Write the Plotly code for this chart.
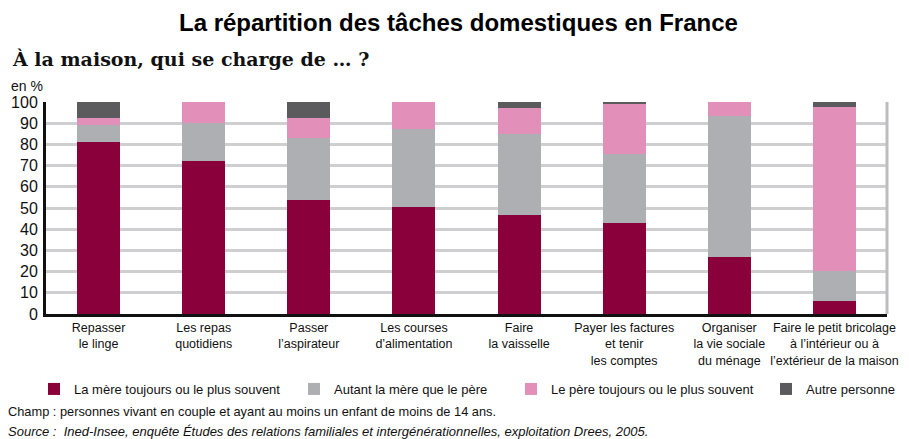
import plotly.graph_objects as go

categories = [
    "Repasser<br>le linge",
    "Les repas<br>quotidiens",
    "Passer<br>l’aspirateur",
    "Les courses<br>d’alimentation",
    "Faire<br>la vaisselle",
    "Payer les factures<br>et tenir<br>les comptes",
    "Organiser<br>la vie sociale<br>du ménage",
    "Faire le petit bricolage<br>à l’intérieur ou à<br>l’extérieur de la maison",
]
mere = [81, 72, 54, 50.5, 46.5, 43, 27, 6]
autant = [8, 18, 29, 37, 38.5, 32.5, 66.5, 14.5]
pere = [3.5, 10, 9.5, 12.5, 12, 24, 6.5, 77]
autre = [7.5, 0, 7.5, 0, 3, 0.5, 0, 2.5]
series_names = [
    "La mère toujours ou le plus souvent",
    "Autant la mère que le père",
    "Le père toujours ou le plus souvent",
    "Autre personne",
]
y_ticks = [0, 10, 20, 30, 40, 50, 60, 70, 80, 90, 100]

colors = ["#8A003A", "#AEAFB3", "#E290BA", "#5B5B5D"]
SANS = "Liberation Sans, Arial, sans-serif"

# page body has an 8px margin; the figure is placed at (8, 8) in the window
OFF = 8
W, H = 909 - OFF, 439 - OFF
# plot area in window pixels: left 46, right 887, top 102, bottom 314
L = 46 - OFF
R = W - (887 - OFF)
T = 102 - OFF
B = H - (314 - OFF)
pw = W - L - R
ph = H - T - B


def px(x):
    return (x - OFF - L) / pw


def py(y):
    return (H - B - (y - OFF)) / ph


legend_ids = ["legend", "legend2", "legend3", "legend4"]
# left edges of each legend box, in figure pixels
legend_left = [26, 286, 503, 758]

fig = go.Figure()
x_idx = list(range(len(categories)))
for name, vals, col, lid in zip(series_names, [mere, autant, pere, autre], colors, legend_ids):
    fig.add_trace(go.Bar(
        x=x_idx, y=vals, name=name, legend=lid,
        marker=dict(color=col, line=dict(width=0)),
    ))

legend_layout = {}
for lid, lx in zip(legend_ids, legend_left):
    legend_layout[lid] = dict(
        orientation="h",
        xref="container",
        x=lx / W, xanchor="left",
        y=py(389), yanchor="middle",
        font=dict(family=SANS, size=13, color="#111111"),
        bgcolor="rgba(0,0,0,0)",
    )

fig.update_layout(
    width=W, height=H,
    barmode="stack",
    bargap=0.59,
    margin=dict(l=L, r=R, t=T, b=B, autoexpand=False),
    plot_bgcolor="white",
    paper_bgcolor="white",
    font=dict(family=SANS, size=13, color="#111111"),
    showlegend=True,
    **legend_layout,
    xaxis=dict(
        tickmode="array",
        tickvals=x_idx,
        ticktext=categories,
        tickangle=0,
        range=[-0.5, len(categories) - 0.5],
        showline=True, linecolor="#111111", linewidth=3,
        ticks="", showgrid=False,
        ticklabeloverflow="allow",
        tickfont=dict(family=SANS, size=12.5, color="#111111"),
    ),
    yaxis=dict(
        range=[0, 100],
        tickmode="array",
        tickvals=y_ticks,
        showline=True, linecolor="#111111", linewidth=3,
        showgrid=True, gridcolor="#CFCFD1", gridwidth=3,
        ticks="", zeroline=False,
        ticklabelstandoff=2,
        tickfont=dict(family=SANS, size=16, color="#111111"),
    ),
    shapes=[
        dict(type="line", xref="paper", yref="paper", x0=1, x1=1, y0=0, y1=1,
             line=dict(color="#BDBDBF", width=3)),
    ],
    annotations=[
        dict(text="<b>La répartition des tâches domestiques en France</b>",
             xref="paper", yref="paper", x=px(458), y=py(22), xanchor="center", yanchor="middle",
             showarrow=False, font=dict(family=SANS, size=24, color="#000000")),
        dict(text="<b>À la maison, qui se charge de … ?</b>",
             xref="paper", yref="paper", x=px(10), y=py(59), xanchor="left", yanchor="middle",
             showarrow=False, font=dict(family="DejaVu Serif, Liberation Serif, serif", size=19, color="#111111")),
        dict(text="en %",
             xref="paper", yref="paper", x=px(9), y=py(86), xanchor="left", yanchor="middle",
             showarrow=False, font=dict(family=SANS, size=14, color="#111111")),
        dict(text="Champ : personnes vivant en couple et ayant au moins un enfant de moins de 14 ans.",
             xref="paper", yref="paper", x=px(6), y=py(411), xanchor="left", yanchor="middle",
             showarrow=False, font=dict(family=SANS, size=12.8, color="#111111")),
        dict(text="<i>Source :  Ined-Insee, enquête Études des relations familiales et intergénérationnelles, exploitation Drees, 2005.</i>",
             xref="paper", yref="paper", x=px(6), y=py(431), xanchor="left", yanchor="middle",
             showarrow=False, font=dict(family=SANS, size=13, color="#111111")),
    ],
)

fig.write_html("out.html")
